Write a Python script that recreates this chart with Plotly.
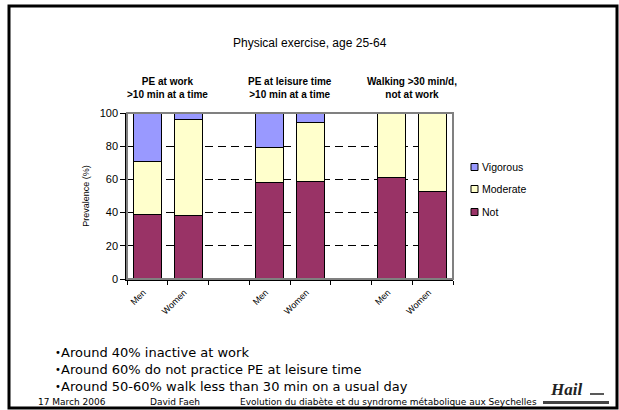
import plotly.graph_objects as go

# Survey groups, sexes and activity levels
groups = ["PE at work<br>>10 min at a time",
          "PE at leisure time<br>>10 min at a time",
          "Walking >30 min/d,<br>not at work"]
sexes = ["Men", "Women"]
levels = ["Not", "Moderate", "Vigorous"]

# Prevalence (%) per group, in order Men, Women
not_active = [[39, 38], [58, 59], [61, 53]]
moderate = [[32, 58], [21, 35], [39, 47]]
vigorous = [[29, 4], [21, 6], [0, 0]]

y_ticks = [0, 20, 40, 60, 80, 100]
title = "Physical exercise, age 25-64"
bullets = ["Around 40% inactive at work",
           "Around 60% do not practice PE at leisure time",
           "Around 50-60% walk less than 30 min on a usual day"]
footer = ["17 March 2006", "David Faeh",
          "Evolution du diabète et du syndrome métabolique aux Seychelles"]

colors = {"Not": "#993366", "Moderate": "#FFFFCC", "Vigorous": "#9999FF"}
series = {"Not": not_active, "Moderate": moderate, "Vigorous": vigorous}

W, H = 619, 410
L, R, T, B = 127, 453, 113, 279  # plot area in pixels
SLIDE_FONT = "DejaVu Sans, Verdana, sans-serif"


def px(x):
    return (x - L) / (R - L)


def py(y):
    return (B - y) / (B - T)


slot = 3  # two bars plus an empty slot per group
positions, labels = [], []
for g in range(len(groups)):
    for s, sex in enumerate(sexes):
        positions.append(g * slot + s)
        labels.append(sex)

fig = go.Figure()
for lev in levels:
    vals = [v for pair in series[lev] for v in pair]
    fig.add_trace(go.Bar(
        x=positions, y=vals, name=lev, width=0.685,
        marker=dict(color=colors[lev], line=dict(color="black", width=1)),
        showlegend=False, hoverinfo="y+name",
    ))

n_slots = len(groups) * slot - 1
fig.update_layout(
    barmode="stack",
    width=W, height=H,
    margin=dict(l=L, r=W - R, t=T, b=H - B),
    paper_bgcolor="white", plot_bgcolor="white",
    font=dict(family="Liberation Sans, Arial, sans-serif", color="black", size=9),
)
fig.update_xaxes(
    range=[-0.5, n_slots - 0.5], tickmode="array", tickvals=positions,
    ticktext=labels, tickangle=-45, ticks="", showgrid=False, zeroline=False,
    showline=True, linecolor="black", linewidth=1.5,
    tickfont=dict(size=9), ticklabelshift=-4, ticklabelstandoff=3,
    minor=dict(tickmode="array",
               tickvals=[i - 0.5 for i in range(n_slots + 1)],
               ticks="outside", ticklen=4, tickcolor="black", tickwidth=1,
               showgrid=False),
)
fig.update_yaxes(
    range=[0, 100], tickmode="array", tickvals=y_ticks,
    ticks="outside", ticklen=5, tickcolor="black", tickwidth=1,
    showgrid=True, gridcolor="black", gridwidth=1, griddash="8px,5px",
    zeroline=False, showline=True, linecolor="black", linewidth=1.5,
    tickfont=dict(size=11),
    title=dict(text="Prevalence (%)", font=dict(size=9), standoff=9),
)


def note(text, x, y, size, xanchor="left", family=None, xref="paper", **kw):
    f = dict(size=size)
    if family:
        f["family"] = family
    f.update(kw.pop("font", {}))
    return dict(text=text, xref=xref, yref="paper", x=x, y=y,
                xanchor=xanchor, yanchor="middle", showarrow=False,
                font=f, **kw)


shapes = [
    # plot-area border
    dict(type="rect", xref="paper", yref="paper", x0=0, x1=1, y0=0, y1=1,
         line=dict(color="#808080", width=2), layer="above"),
    # slide frame
    dict(type="rect", xref="paper", yref="paper",
         x0=px(9), x1=px(617), y0=py(408), y1=py(6),
         line=dict(color="black", width=3)),
]
annotations = [note(title, px(310), py(43), 12, xanchor="center")]

# group headings
for g, name in enumerate(groups):
    annotations.append(note("<b>" + name + "</b>", g * slot + 0.5, py(88.5), 10,
                            xanchor="center", xref="x", align="center"))

# legend, top to bottom: Vigorous, Moderate, Not
leg_y = [167, 189, 212]
for lev, yy in zip(levels[::-1], leg_y):
    shapes.append(dict(type="rect", xref="paper", yref="paper",
                       x0=px(471), x1=px(478), y0=py(yy + 3.5), y1=py(yy - 3.5),
                       fillcolor=colors[lev], line=dict(color="black", width=1)))
    annotations.append(note(lev, px(480), py(yy), 10.5))

# bullet points
for i, line in enumerate(bullets):
    yy = py(352 + i * 17)
    annotations.append(note("•", px(53), yy, 10, family=SLIDE_FONT))
    annotations.append(note(line, px(59), yy, 13, family=SLIDE_FONT))

# footer
for text, xx in zip(footer, [36, 148, 238]):
    annotations.append(note(text, px(xx), py(402), 9, family=SLIDE_FONT))

# signature logo
annotations.append(note("<b><i>Hail</i></b>", px(548), py(389), 17,
                        family="Liberation Serif, serif",
                        font=dict(color="#222222")))
shapes.append(dict(type="line", xref="paper", yref="paper",
                   x0=px(590), x1=px(604), y0=py(394), y1=py(394),
                   line=dict(color="#222222", width=1.5)))
shapes.append(dict(type="rect", xref="paper", yref="paper",
                   x0=px(543), x1=px(609), y0=py(404), y1=py(401),
                   fillcolor="#444444", line=dict(width=0)))

fig.update_layout(shapes=shapes, annotations=annotations)
fig.write_html("out.html")
